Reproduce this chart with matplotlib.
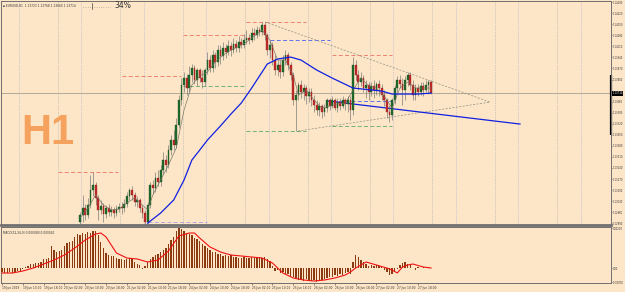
import matplotlib
matplotlib.use("Agg")
import matplotlib.pyplot as plt
import matplotlib.transforms as mtransforms
from matplotlib.lines import Line2D
import numpy as np

# ---------------- data (H1 bars, bar 0 = 19 Jun 02:00) ----------------
first_bar = 30
opens = [1.12898,1.12942,1.12986,1.12942,1.13005,1.13100,1.13132,1.13050,1.12974,1.12999,
         1.12948,1.12986,1.12961,1.12974,1.12955,1.12980,1.12993,1.12986,1.13012,1.13062,
         1.13100,1.13069,1.13024,1.13037,1.12986,1.12955,1.12898,1.13005,1.13132,1.13113,
         1.13176,1.13151,1.13227,1.13290,1.13259,1.13353,1.13417,1.13385,1.13512,1.13670,
         1.13765,1.13809,1.13746,1.13828,1.13873,1.13797,1.13860,1.13809,1.13784,1.13860,
         1.13923,1.13873,1.13955,1.13911,1.13986,1.13949,1.13999,1.13974,1.14012,1.13986,
         1.14024,1.13999,1.14037,1.14018,1.14050,1.14062,1.14050,1.14094,1.14081,1.14113,
         1.14100,1.14145,1.14081,1.13986,1.14018,1.13923,1.13860,1.13892,1.13847,1.13923,
         1.13955,1.13892,1.13828,1.13670,1.13702,1.13765,1.13721,1.13746,1.13695,1.13721,
         1.13670,1.13638,1.13607,1.13632,1.13594,1.13619,1.13670,1.13632,1.13670,1.13619,
         1.13657,1.13632,1.13670,1.13645,1.13670,1.13607,1.13892,1.13828,1.13784,1.13809,
         1.13746,1.13765,1.13721,1.13759,1.13733,1.13771,1.13746,1.13702,1.13670,1.13594,
         1.13575,1.13670,1.13746,1.13797,1.13771,1.13733,1.13797,1.13828,1.13765,1.13702,
         1.13746,1.13721,1.13759,1.13733,1.13765,1.13784]
highs = [1.12961,1.13069,1.13012,1.13050,1.13195,1.13214,1.13151,1.13069,1.13037,1.13018,
         1.13005,1.13012,1.12999,1.12993,1.13005,1.13018,1.13024,1.13043,1.13088,1.13113,
         1.13126,1.13088,1.13062,1.13050,1.13005,1.12974,1.13024,1.13151,1.13164,1.13214,
         1.13227,1.13259,1.13341,1.13322,1.13385,1.13448,1.13480,1.13556,1.13702,1.13809,
         1.13847,1.13835,1.13885,1.13898,1.13892,1.13873,1.13873,1.13860,1.13873,1.13974,
         1.13955,1.13986,1.13974,1.14018,1.14018,1.14037,1.14024,1.14050,1.14037,1.14062,
         1.14050,1.14075,1.14062,1.14088,1.14113,1.14088,1.14126,1.14126,1.14138,1.14132,
         1.14164,1.14164,1.14094,1.14050,1.14037,1.13955,1.13923,1.13923,1.13955,1.13986,
         1.13974,1.13911,1.13847,1.13733,1.13784,1.13797,1.13771,1.13765,1.13746,1.13746,
         1.13702,1.13670,1.13657,1.13645,1.13645,1.13683,1.13683,1.13695,1.13683,1.13683,
         1.13683,1.13695,1.13683,1.13695,1.13695,1.13942,1.13923,1.13860,1.13847,1.13828,
         1.13797,1.13784,1.13784,1.13797,1.13784,1.13797,1.13771,1.13733,1.13683,1.13638,
         1.13683,1.13765,1.13822,1.13828,1.13809,1.13822,1.13847,1.13847,1.13797,1.13771,
         1.13771,1.13784,1.13784,1.13797,1.13797,1.13797]
lows = [1.12870,1.12898,1.12910,1.12923,1.12986,1.13062,1.13005,1.12910,1.12948,1.12898,
        1.12923,1.12936,1.12936,1.12923,1.12936,1.12961,1.12948,1.12961,1.12993,1.13037,
        1.13037,1.12999,1.12993,1.12961,1.12923,1.12860,1.12870,1.12986,1.13075,1.13088,
        1.13126,1.13126,1.13202,1.13214,1.13240,1.13322,1.13353,1.13366,1.13493,1.13638,
        1.13721,1.13702,1.13721,1.13784,1.13771,1.13759,1.13784,1.13746,1.13759,1.13835,
        1.13847,1.13847,1.13873,1.13885,1.13898,1.13923,1.13936,1.13955,1.13949,1.13968,
        1.13974,1.13974,1.13999,1.13999,1.14024,1.14024,1.14037,1.14050,1.14062,1.14075,
        1.14081,1.14050,1.13955,1.13936,1.13892,1.13828,1.13822,1.13809,1.13822,1.13892,
        1.13860,1.13797,1.13638,1.13474,1.13670,1.13683,1.13670,1.13645,1.13657,1.13632,
        1.13594,1.13575,1.13569,1.13556,1.13569,1.13594,1.13607,1.13619,1.13607,1.13594,
        1.13607,1.13619,1.13607,1.13594,1.13543,1.13575,1.13797,1.13733,1.13759,1.13721,
        1.13683,1.13670,1.13695,1.13683,1.13702,1.13695,1.13670,1.13632,1.13556,1.13531,
        1.13543,1.13645,1.13721,1.13746,1.13638,1.13670,1.13759,1.13733,1.13670,1.13670,
        1.13695,1.13702,1.13695,1.13721,1.13708,1.13708]
closes = [1.12942,1.12986,1.12942,1.13005,1.13100,1.13132,1.13050,1.12974,1.12999,1.12948,
          1.12986,1.12961,1.12974,1.12955,1.12980,1.12993,1.12986,1.13012,1.13062,1.13100,
          1.13069,1.13024,1.13037,1.12986,1.12955,1.12898,1.13005,1.13132,1.13113,1.13176,
          1.13151,1.13227,1.13290,1.13259,1.13353,1.13417,1.13385,1.13512,1.13670,1.13765,
          1.13809,1.13746,1.13828,1.13873,1.13797,1.13860,1.13809,1.13784,1.13860,1.13923,
          1.13873,1.13955,1.13911,1.13986,1.13949,1.13999,1.13974,1.14012,1.13986,1.14024,
          1.13999,1.14037,1.14018,1.14050,1.14062,1.14050,1.14094,1.14081,1.14113,1.14100,
          1.14145,1.14081,1.13986,1.14018,1.13923,1.13860,1.13892,1.13847,1.13923,1.13955,
          1.13892,1.13828,1.13670,1.13702,1.13765,1.13721,1.13746,1.13695,1.13721,1.13670,
          1.13638,1.13607,1.13632,1.13594,1.13619,1.13670,1.13632,1.13670,1.13619,1.13657,
          1.13632,1.13670,1.13645,1.13670,1.13607,1.13892,1.13828,1.13784,1.13809,1.13746,
          1.13765,1.13721,1.13759,1.13733,1.13771,1.13746,1.13702,1.13670,1.13594,1.13575,
          1.13670,1.13746,1.13797,1.13771,1.13733,1.13797,1.13828,1.13765,1.13702,1.13746,
          1.13721,1.13759,1.13733,1.13765,1.13784,1.13714]

# blue moving average, read at these bars
ma_bars = [56, 61, 66, 70, 73, 76, 79, 84, 88, 92, 96, 100, 102, 106, 111, 115, 121, 127, 135, 146, 150, 160, 165]
ma_vals = [1.12891, 1.12955, 1.13037, 1.13164, 1.13290, 1.13353, 1.13417, 1.13506, 1.13581, 1.13651,
           1.13746, 1.13847, 1.13898, 1.13930, 1.13942, 1.13923, 1.13860, 1.13809, 1.13746, 1.13727,
           1.13708, 1.13708, 1.13714]

# thin grey fast average
fast_bars = [30, 33, 36, 39, 42, 45, 48, 51, 54, 56, 58, 61, 64, 67, 70, 73, 76, 79, 82, 85, 88, 91, 94, 97,
             100, 103, 106, 109, 112, 114, 117, 120, 123, 126, 129, 132, 135, 138, 141, 144, 147, 150, 153,
             156, 159, 162, 165]
fast_vals = [1.12923, 1.12986, 1.13069, 1.13005, 1.12974, 1.12980, 1.13018, 1.13050, 1.13005, 1.12974,
             1.13069, 1.13164, 1.13259, 1.13366, 1.13607, 1.13765, 1.13822, 1.13847, 1.13911, 1.13955,
             1.13986, 1.14012, 1.14037, 1.14075, 1.14113, 1.14050, 1.13923, 1.13923, 1.13828, 1.13702,
             1.13733, 1.13670, 1.13619, 1.13632, 1.13645, 1.13651, 1.13733, 1.13809, 1.13759, 1.13746,
             1.13695, 1.13619, 1.13746, 1.13784, 1.13746, 1.13746, 1.13746]

# daily levels: start bar, end bar, price, kind
lvl_start = [21.5, 46, 69.6, 69.6, 94, 94, 103, 127, 127, 127, 56]
lvl_end = [44.6, 69, 93.5, 93.5, 117, 117, 126, 150, 150, 150, 79]
lvl_price = [1.13214, 1.13822, 1.14081, 1.13759, 1.14164, 1.13474, 1.14050, 1.13955, 1.13506, 1.13664, 1.12895]
lvl_kind = ["high", "high", "high", "low", "high", "low", "mid", "high", "low", "mid", "base"]

# triangle trend lines (bar, price)
tri_upper = [(101.2, 1.14164), (187.7, 1.13657)]
tri_lower = [(113.8, 1.13474), (187.7, 1.13657)]
blue_trend = [(125.4, 1.13664), (199.2, 1.13518)]

# MACD histogram for bars 0..165
macd_hist = [-0.00020,-0.00025,-0.00025,-0.00020,-0.00025,-0.00020,-0.00015,-0.00015,-0.00005,0.00005,
             0.00010,0.00020,0.00020,0.00025,0.00025,0.00030,0.00045,0.00045,0.00050,0.00110,
             0.00090,0.00080,0.00085,0.00090,0.00110,0.00125,0.00130,0.00135,0.00155,0.00170,
             0.00165,0.00175,0.00170,0.00180,0.00175,0.00185,0.00185,0.00165,0.00130,0.00100,
             0.00075,0.00065,0.00060,0.00060,0.00050,0.00045,0.00045,0.00040,0.00045,0.00050,
             0.00045,0.00030,0.00020,0.00015,-0.00005,0.00010,0.00030,0.00045,0.00055,0.00065,
             0.00070,0.00080,0.00090,0.00100,0.00120,0.00140,0.00155,0.00185,0.00200,0.00195,
             0.00185,0.00175,0.00170,0.00165,0.00150,0.00145,0.00135,0.00120,0.00110,0.00100,
             0.00090,0.00080,0.00080,0.00070,0.00070,0.00060,0.00065,0.00060,0.00065,0.00055,
             0.00055,0.00050,0.00050,0.00055,0.00050,0.00050,0.00055,0.00050,0.00050,0.00055,
             0.00050,0.00055,0.00045,0.00035,0.00010,-0.00015,-0.00010,-0.00025,-0.00020,-0.00030,
             -0.00030,-0.00040,-0.00045,-0.00050,-0.00060,-0.00060,-0.00065,-0.00055,-0.00060,-0.00065,
             -0.00060,-0.00070,-0.00065,-0.00060,-0.00055,-0.00050,-0.00045,-0.00045,-0.00035,-0.00040,
             -0.00030,-0.00035,-0.00025,-0.00020,-0.00030,0.00030,0.00065,0.00055,0.00040,0.00030,
             0.00020,0.00010,0.00015,0.00010,0.00015,0.00010,0.00005,-0.00010,-0.00020,-0.00035,
             -0.00030,-0.00020,-0.00005,0.00015,0.00025,0.00030,0.00020,0.00015,0.00000,-0.00010,
             0.00005,0.00000,0.00005,0.00000,0.00005,0.00000]
sig_bars = [0,4,8,12,16,20,24,28,32,36,38,40,42,44,48,52,56,60,64,68,72,74,76,80,84,88,92,100,104,108,
            112,116,120,124,128,132,134,136,138,140,144,148,150,152,154,156,158,162,165]
sig_vals = [-0.00025,-0.00025,-0.00015,0.0,0.00020,0.00040,0.00065,0.00100,0.00140,0.00170,
            0.00175,0.00155,0.00115,0.00075,0.00050,0.00045,0.00030,0.00040,0.00085,0.00160,
            0.00175,0.00175,0.00150,0.00105,0.00080,0.00065,0.00060,0.00050,0.00025,-0.00025,
            -0.00050,-0.00060,-0.00065,-0.00060,-0.00050,-0.00035,-0.00020,0.0,0.00015,0.00030,
            0.00015,0.0,-0.00010,-0.00025,0.00005,0.00015,0.00020,0.00005,0.0]

price_ticks = [1.14290, 1.14220, 1.14150, 1.14080, 1.14010, 1.13940, 1.13870, 1.13800, 1.13660,
               1.13590, 1.13520, 1.13450, 1.13380, 1.13310, 1.13240, 1.13170, 1.13100, 1.13030,
               1.12960, 1.12890]
time_pos = [0, 8, 16, 24, 32, 40, 48, 56, 64, 72, 80, 88, 96, 104, 112, 120, 128, 136, 144, 152, 160]
time_labels = ["19 Jun 2019", "19 Jun 10:00", "19 Jun 18:00", "20 Jun 02:00", "20 Jun 10:00",
               "20 Jun 18:00", "21 Jun 02:00", "21 Jun 10:00", "21 Jun 18:00", "24 Jun 02:00",
               "24 Jun 10:00", "24 Jun 18:00", "25 Jun 02:00", "25 Jun 10:00", "25 Jun 18:00",
               "26 Jun 02:00", "26 Jun 10:00", "26 Jun 18:00", "27 Jun 02:00", "27 Jun 10:00",
               "27 Jun 18:00"]
last_price = 1.13714
day_range = (1.13828, 1.13448)

# ---------------- styling ----------------
bg = '#FDE6C8'
axis_col = '#707070'
lvl_colors = {"high": '#F08070', "low": '#70B070', "mid": '#6070F0', "base": '#B8A8E0'}
small = 2.1
scale_fs = 1.85

fig = plt.figure(figsize=(6.25, 2.92), dpi=100)
fig.patch.set_facecolor(bg)
ax = fig.add_axes([1/625, 67/292, 610/625, 224/292])
ax2 = fig.add_axes([1/625, 9/292, 610/625, 56/292], sharex=ax)
for a in (ax, ax2):
    a.set_facecolor(bg)
    for s in a.spines.values():
        s.set_color(axis_col)
        s.set_linewidth(0.7)
ax.spines['bottom'].set_linewidth(2.0)

ax.set_xlim(-0.4, 234.2)
ax.set_ylim(1.12879, 1.14297)

# vertical grid (day separators + mid-day)
for g in [21.5, 45.5, 69.5, 93.5, 117.5, 141.5, 165.5, 189.5, 213.5]:
    ax.axvline(g, color='#A8A8A8', lw=0.5, ls=(0, (1, 1.5)))
for g in [6.5, 30.5, 54.5, 78.5, 102.5, 126.5, 150.5, 174.5, 198.5, 222.5]:
    ax.axvline(g, color='#ABABD8', lw=0.5, ls=(0, (1, 1.5)))

# current price line
ax.axhline(last_price, color='#A8A090', lw=0.6)

# daily levels
for s, e, p, k in zip(lvl_start, lvl_end, lvl_price, lvl_kind):
    ax.plot([s, e], [p, p], color=lvl_colors[k], lw=0.7, ls=(0, (4, 2.5)))

# triangle + blue trend line
for seg in (tri_upper, tri_lower):
    ax.plot([seg[0][0], seg[1][0]], [seg[0][1], seg[1][1]], color='#909080', lw=0.5, ls=(0, (3, 2)))
ax.plot([blue_trend[0][0], blue_trend[1][0]], [blue_trend[0][1], blue_trend[1][1]], color='#1020E0', lw=0.9)

# candles
idx = np.arange(first_bar, first_bar + len(opens))
o = np.array(opens); h = np.array(highs); l = np.array(lows); c = np.array(closes)
up = c >= o
ax.vlines(idx, l, h, color='#707070', lw=0.45, zorder=3)
body = np.maximum(np.abs(c - o), 0.00003)
ax.bar(idx, body, bottom=np.minimum(o, c), width=0.72,
       color=np.where(up, '#1F6A2A', '#C42A2A'), edgecolor=np.where(up, '#174F1F', '#8E1E1E'),
       lw=0.25, zorder=4)

# averages
ax.plot(fast_bars, fast_vals, color='#707060', lw=0.45, zorder=5)
ax.plot(ma_bars, ma_vals, color='#1020E0', lw=0.9, zorder=6)

# right price scale
ax.yaxis.tick_right()
ax.set_yticks(price_ticks)
ax.set_yticklabels([f"{p:.5f}" for p in price_ticks])
ax.tick_params(axis='y', labelsize=scale_fs, length=1.0, pad=0.4, colors='#333333', width=0.4)
ax.tick_params(axis='x', bottom=False, labelbottom=False)
tr = mtransforms.blended_transform_factory(ax.transAxes, ax.transData)
ax.text(1.002, last_price, f"{last_price:.5f}", transform=tr, fontsize=scale_fs, color='white',
        va='center', ha='left', bbox=dict(fc='black', ec='none', pad=0.3), clip_on=False)
ax.plot([1.0, 1.0], list(day_range), transform=tr, color='black', lw=1.6, clip_on=False,
        solid_capstyle='butt')

# H1 label and header
ax.text(0.077, 0.41, "H1", transform=ax.transAxes, fontsize=30, fontweight='bold',
        family=['Liberation Sans', 'DejaVu Sans'], color='#F5A25E', ha='center', va='center')
fig.text(3/625, 1 - 6/292, "\u25aa EURUSD,H1  1.13723 1.13768 1.13660 1.13714", fontsize=small,
         color='#333333', va='center', ha='left')
fig.text(114/625, 1 - 6/292, "34%", fontsize=5.5, color='#333333', va='center', ha='left')
gy = 1 - 6/292
fig.add_artist(Line2D([83/625, 110/625], [gy - 1/292, gy - 1/292], color='#555555', lw=0.4,
                      ls=(0, (1, 3))))
fig.add_artist(Line2D([92/625, 92/625], [gy - 3/292, gy + 3/292], color='#444444', lw=0.5))

# ---------------- MACD pane ----------------
ax2.set_ylim(-0.00075, 0.00205)
ax2.bar(np.arange(len(macd_hist)), macd_hist, width=0.5, color='#8B3A10', zorder=3)
ax2.plot(sig_bars, sig_vals, color='#F01010', lw=0.8, zorder=4)
ax2.yaxis.tick_right()
ax2.set_yticks([-0.00070, 0.0, 0.00200])
ax2.set_yticklabels(["-0.00070", "0.00", "0.00200"])
ax2.tick_params(axis='y', labelsize=scale_fs, length=1.0, pad=0.4, colors='#333333', width=0.4)
ax2.set_xticks(time_pos)
ax2.set_xticklabels(time_labels, ha='left')
ax2.tick_params(axis='x', labelsize=small, length=1.5, pad=0.8, colors='#333333', width=0.4)
ax2.text(0.004, 0.93, "MACD(12,26,9) 0.000080 0.000041", transform=ax2.transAxes, fontsize=small,
         color='#333333', va='top', ha='left')

fig.savefig("out.png", dpi=100, facecolor=bg)
